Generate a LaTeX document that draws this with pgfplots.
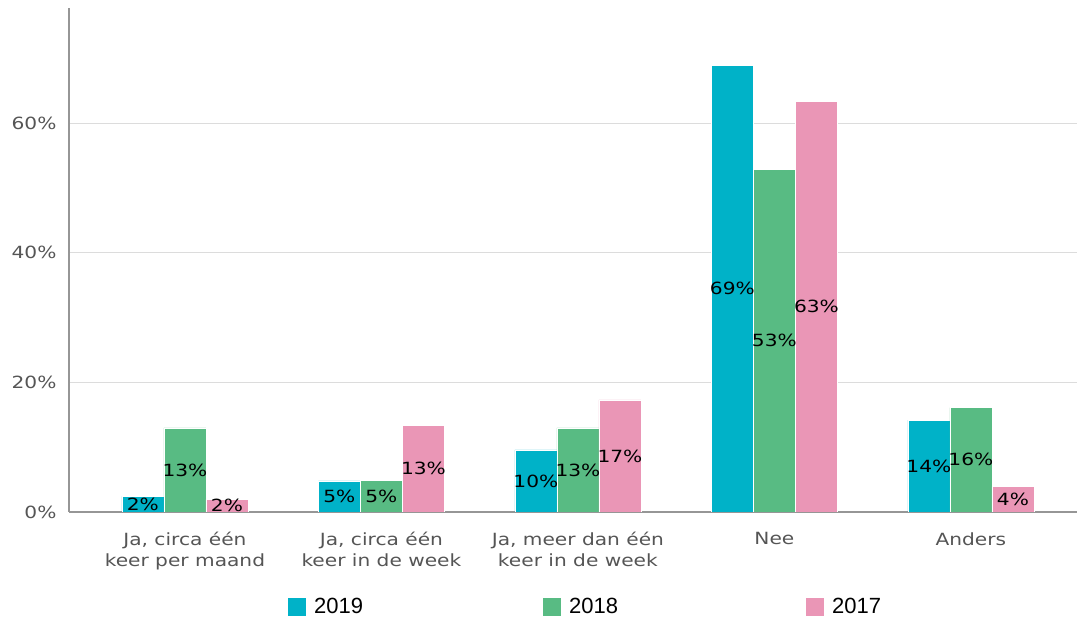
\documentclass[border=0pt]{standalone}
\usepackage{fontspec}
\setmainfont{DejaVu Sans}[FakeStretch=1.2]
\newfontfamily\legfont{Liberation Sans}
\usepackage{pgfplots}
\pgfplotsset{compat=1.18}
\definecolor{c19}{RGB}{0,178,200}
\definecolor{c18}{RGB}{88,187,131}
\definecolor{c17}{RGB}{234,150,182}
\definecolor{tickgray}{RGB}{85,85,85}
\definecolor{axgray}{RGB}{150,150,150}
\definecolor{gridgray}{RGB}{220,220,220}
\begin{document}
\begin{tikzpicture}
\begin{axis}[
  name=ax,
  scale only axis, width=1008pt, height=504pt,
  xmin=-0.59, xmax=4.54, ymin=0, ymax=77.8,
  ybar=0pt, bar width=0.214,
  /pgf/number format/assume math mode=true,
  xtick={0,1,2,3,4},
  xticklabels={{Ja, circa één\\keer per maand},{Ja, circa één\\keer in de week},{Ja, meer dan één\\keer in de week},{Nee},{Anders}},
  xticklabel style={align=center, text=tickgray, font=\fontsize{16.8}{21}\selectfont, yshift=-17pt},
  ytick={0,20,40,60},
  yticklabel={\pgfmathprintnumber{\tick}\%},
  yticklabel style={text=tickgray, font=\fontsize{16.8}{21}\selectfont, xshift=-9pt},
  major tick length=0pt,
  axis x line*=bottom, axis y line*=left,
  axis line style={draw=axgray, line width=1.5pt, -},
  ymajorgrids, grid style={draw=gridgray, line width=1pt},
  nodes near coords={\pgfmathprintnumber[fixed,precision=0]{\pgfplotspointmeta}\%},
  visualization depends on={y \as \rawy},
  every node near coord/.append style={anchor=center, yshift=-\rawy*3.239pt, text=black, font=\fontsize{16.8}{21}\selectfont},
  legend columns=3,
  legend style={at={(axis description cs:0.2173,-0.1885)}, anchor=west, draw=none, inner sep=0pt, font=\legfont\fontsize{22}{24}\selectfont,
    /tikz/column 1/.style={column sep=6pt}, /tikz/column 3/.style={column sep=6pt}, /tikz/column 5/.style={column sep=6pt},
    /tikz/column 2/.style={column sep=178pt}, /tikz/column 4/.style={column sep=186pt}},
  legend image code/.code={\fill[#1,draw=none] (0pt,-9pt) rectangle (18pt,9pt);},
]
\addplot[fill=c19, draw=white, line width=0.5pt, bar shift=-0.214] coordinates {(0,2.4) (1,4.8) (2,9.6) (3,69.0) (4,14.2)};
\addplot[fill=c18, draw=white, line width=0.5pt, bar shift=0] coordinates {(0,13.0) (1,4.9) (2,13.0) (3,52.9) (4,16.1)};
\addplot[fill=c17, draw=white, line width=0.5pt, bar shift=0.214] coordinates {(0,2.0) (1,13.4) (2,17.3) (3,63.4) (4,3.9)};
\legend{2019,2018,2017}
\end{axis}
\pgfresetboundingbox
\useasboundingbox (ax.south west) ++(-69pt,-108pt) rectangle ++(1077pt,620pt);
\end{tikzpicture}
\end{document}
